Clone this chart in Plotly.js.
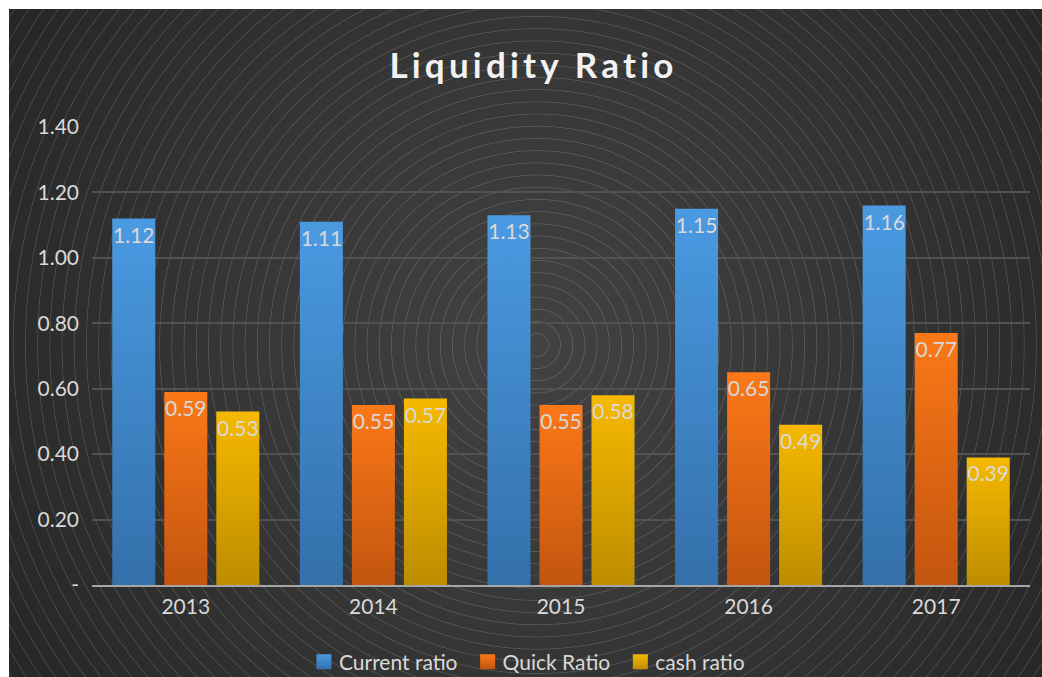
<!DOCTYPE html>
<html>
<head>
<meta charset="utf-8">
<script src="https://cdn.plot.ly/plotly-3.0.1.min.js"></script>
<style>
  html, body { margin: 0; padding: 0; background: #ffffff; }
  #wrap { position: relative; width: 1042px; height: 677px; overflow: hidden; }
  #bg {
    position: absolute; left: 9px; top: 9px; width: 1033px; height: 668px;
    background:
      repeating-radial-gradient(circle at 528px 336px,
        rgba(255,255,255,0) 0px, rgba(255,255,255,0) 10.6px,
        rgba(255,255,255,0.16) 11.3px, rgba(255,255,255,0) 12.2px),
      radial-gradient(circle at 528px 336px, #424242 0%, #373737 45%, #262626 100%);
  }
  #chart { position: absolute; left: 0; top: 0; width: 1042px; height: 677px; }
  #chart .gtitle { letter-spacing: 4.2px; }
</style>
</head>
<body>
<div id="wrap">
  <div id="bg"></div>
  <div id="chart"></div>
</div>
<script>
// Liquidity ratios by year
const years = ['2013', '2014', '2015', '2016', '2017'];
const currentRatio = [1.12, 1.11, 1.13, 1.15, 1.16];
const quickRatio = [0.59, 0.55, 0.55, 0.65, 0.77];
const cashRatio = [0.53, 0.57, 0.58, 0.49, 0.39];
const seriesNames = ['Current ratio', 'Quick Ratio', 'cash ratio'];
const yTickValues = [0, 0.2, 0.4, 0.6, 0.8, 1.0, 1.2, 1.4];
const yTickLabels = ['-', '0.20', '0.40', '0.60', '0.80', '1.00', '1.20', '1.40'];

// top / bottom colours of each series' vertical gradient
const gradients = [
  ['#4a9ae2', '#3470aa'],
  ['#fb7818', '#c3550f'],
  ['#f6b900', '#bd8d00']
];

const FONT = 'Lato, "Open Sans", sans-serif';
const LABEL = '#d9d9d9';
const FS = 21;

function barTrace(name, values, idx) {
  return {
    type: 'bar',
    name: name,
    x: years,
    y: values,
    text: values.map(v => v.toFixed(2)),
    textposition: 'inside',
    insidetextanchor: 'end',
    textangle: 0,
    constraintext: 'none',
    textfont: { family: FONT, size: FS, color: LABEL },
    marker: { color: gradients[idx][0], line: { width: 0 } },
    hoverinfo: 'x+y+name'
  };
}

const data = [
  barTrace(seriesNames[0], currentRatio, 0),
  barTrace(seriesNames[1], quickRatio, 1),
  barTrace(seriesNames[2], cashRatio, 2)
];

const layout = {
  width: 1042,
  height: 677,
  paper_bgcolor: 'rgba(0,0,0,0)',
  plot_bgcolor: 'rgba(0,0,0,0)',
  margin: { l: 92, r: 12, t: 127, b: 92 },
  font: { family: FONT, color: LABEL, size: FS },
  title: {
    text: 'Liquidity Ratio',
    font: { family: FONT, size: 35, color: '#f2f2f2', weight: 'bold' },
    x: 0.512, xanchor: 'center',
    y: 1 - 66 / 677, yanchor: 'middle'
  },
  barmode: 'group',
  bargap: 0.168,
  bargroupgap: 0.173,
  xaxis: {
    type: 'category',
    showgrid: false,
    showline: true,
    linecolor: '#a6a6a6',
    linewidth: 2,
    ticks: '',
    tickfont: { family: FONT, size: FS, color: LABEL },
    ticklabelstandoff: 2,
    fixedrange: true
  },
  yaxis: {
    range: [0, 1.4],
    tickvals: yTickValues,
    ticktext: yTickLabels,
    showgrid: true,
    gridcolor: '#525252',
    gridwidth: 2,
    zeroline: false,
    showline: false,
    ticks: '',
    ticklabelstandoff: 12,
    tickfont: { family: FONT, size: FS, color: LABEL },
    fixedrange: true
  },
  showlegend: true,
  legend: {
    orientation: 'h',
    x: 0.461, xanchor: 'center',
    yref: 'container',
    y: 1 - 662 / 677, yanchor: 'middle',
    font: { family: FONT, size: FS, color: LABEL },
    bgcolor: 'rgba(0,0,0,0)',
    itemwidth: 30,
    tracegroupgap: 0
  }
};

// give bars and legend swatches a top-to-bottom gradient fill
function applyGradients(gd) {
  const svg = gd.querySelector('svg.main-svg');
  const ns = 'http://www.w3.org/2000/svg';
  let defs = svg.querySelector('defs#bar-grads');
  if (!defs) {
    defs = document.createElementNS(ns, 'defs');
    defs.setAttribute('id', 'bar-grads');
    svg.insertBefore(defs, svg.firstChild);
    gradients.forEach((g, i) => {
      const lg = document.createElementNS(ns, 'linearGradient');
      lg.setAttribute('id', 'bar-grad-' + i);
      lg.setAttribute('x1', '0'); lg.setAttribute('y1', '0');
      lg.setAttribute('x2', '0'); lg.setAttribute('y2', '1');
      [[0, g[0]], [1, g[1]]].forEach(([o, c]) => {
        const s = document.createElementNS(ns, 'stop');
        s.setAttribute('offset', o);
        s.setAttribute('stop-color', c);
        lg.appendChild(s);
      });
      defs.appendChild(lg);
    });
  }
  gd.querySelectorAll('.barlayer .trace.bars').forEach((tr, i) => {
    tr.querySelectorAll('.point path').forEach(p => {
      p.style.fill = 'url(#bar-grad-' + i + ')';
    });
  });
  // larger square swatches, sitting closer to their labels
  gd.querySelectorAll('.legend .traces').forEach((tr, i) => {
    tr.querySelectorAll('.legendpoints path').forEach(p => {
      p.setAttribute('d', 'M12.5,7.5H-2.5V-7.5H12.5Z');
      p.style.fill = 'url(#bar-grad-' + i + ')';
    });
  });
}

const gd = document.getElementById('chart');
Plotly.newPlot(gd, data, layout, { displayModeBar: false, staticPlot: true })
  .then(() => applyGradients(gd));
</script>
</body>
</html>
